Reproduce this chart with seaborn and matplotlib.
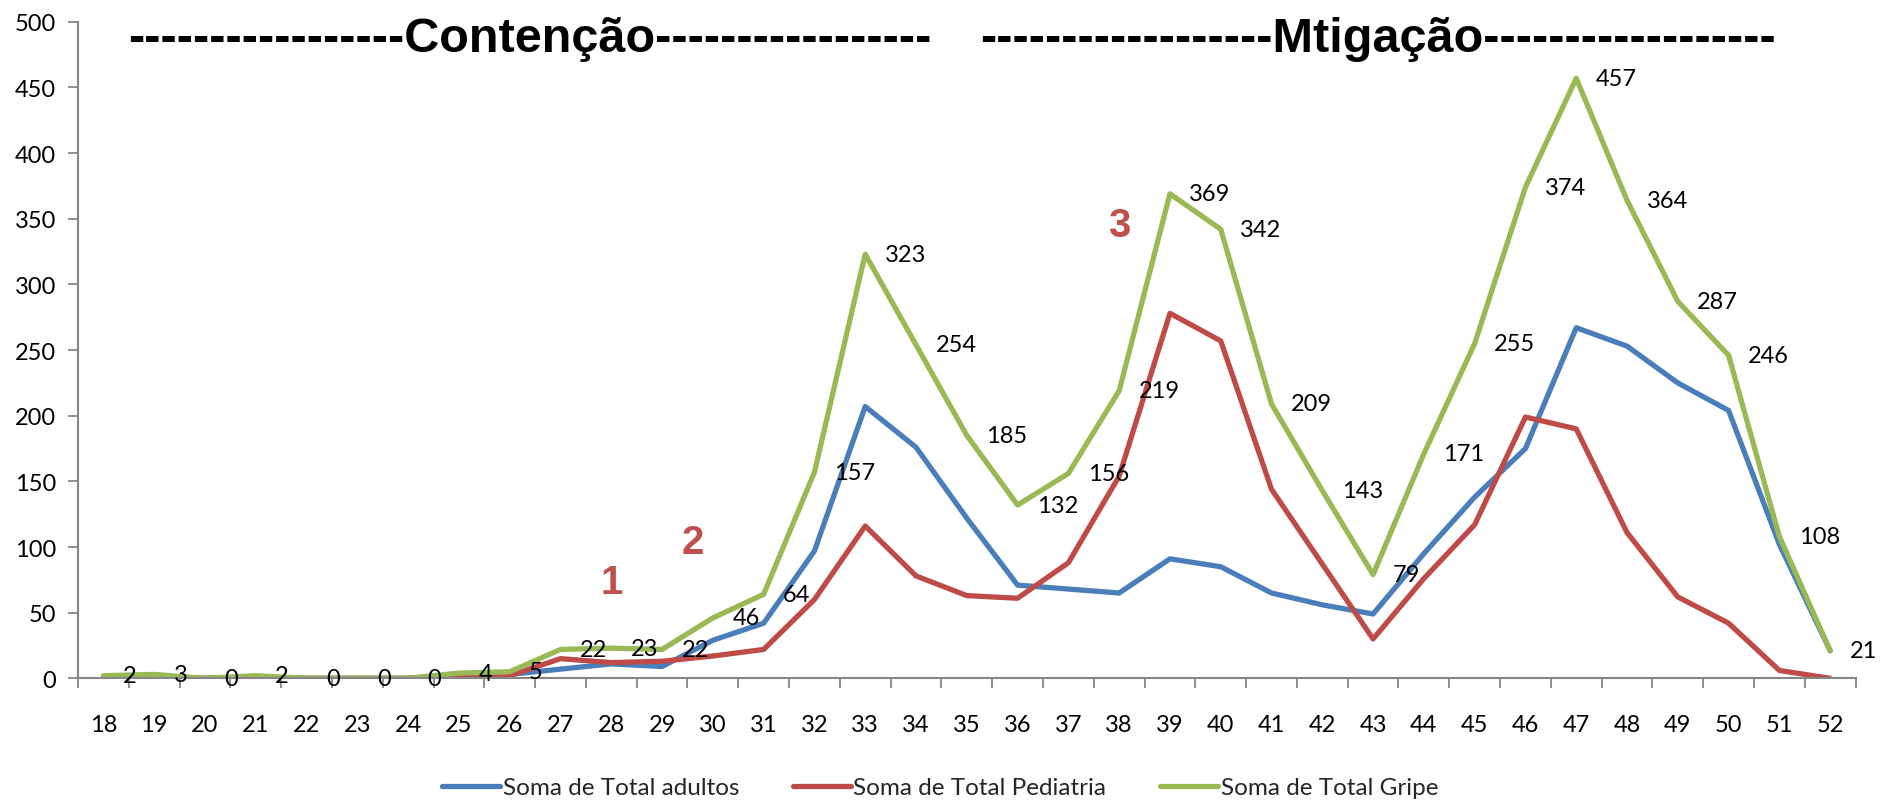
import matplotlib
matplotlib.use("Agg")
import matplotlib.pyplot as plt
from matplotlib.ticker import MultipleLocator
import seaborn as sns
import pandas as pd
import numpy as np

# semanas epidemiologicas
semanas = list(range(18, 53))
adultos = [1, 2, 0, 1, 0, 0, 0, 3, 3, 7, 11, 9, 29, 42, 97, 207, 176, 122, 71, 68,
           65, 91, 85, 65, 56, 49, 95, 138, 175, 267, 253, 225, 204, 102, 21]
pediatria = [1, 1, 0, 1, 0, 0, 0, 1, 2, 15, 12, 13, 17, 22, 60, 116, 78, 63, 61, 88,
             154, 278, 257, 144, 87, 30, 76, 117, 199, 190, 111, 62, 42, 6, 0]
gripe = [2, 3, 0, 2, 0, 0, 0, 4, 5, 22, 23, 22, 46, 64, 157, 323, 254, 185, 132, 156,
         219, 369, 342, 209, 143, 79, 171, 255, 374, 457, 364, 287, 246, 108, 21]
series_names = ["Soma de Total adultos", "Soma de Total Pediatria", "Soma de Total Gripe"]
cores = ["#4A7EBB", "#BE4B48", "#98B954"]

fases = ["-----------------Contenção-----------------", "------------------Mtigação------------------"]
fase_x = [26.4, 43.1]
marcos = ["1", "2", "3"]
marcos_x = [28, 29.6, 38]
marcos_y = [73, 104, 345]

df = pd.DataFrame({
    "semana": semanas * 3,
    "valor": adultos + pediatria + gripe,
    "serie": np.repeat(series_names, len(semanas)),
})

sns.set_theme(style="white")
plt.rcParams['font.family'] = ['Lato', 'DejaVu Sans']

fig = plt.figure(figsize=(18.8, 8.03), dpi=100)
ax = fig.add_axes([0.0415, 0.154, 0.9455, 0.8176])

sns.lineplot(data=df, x="semana", y="valor", hue="serie", palette=cores,
             hue_order=series_names, linewidth=3.8, ax=ax, legend=True)

for x, v in zip(semanas, gripe):
    ax.annotate(str(v), (x, v), xytext=(14, 0), textcoords="offset points",
                ha="left", va="center", fontsize=17, color="black")

for t, x in zip(fases, fase_x):
    ax.text(x, 487, t, ha="center", va="center", fontsize=35, fontweight="bold",
            family=['Liberation Sans'], color="black")

for t, x, y in zip(marcos, marcos_x, marcos_y):
    ax.text(x, y, t, ha="center", va="center", fontsize=29, fontweight="bold",
            family=['Liberation Sans'], color="#C0504D")

ax.set_xlim(17.5, 52.5)
ax.set_ylim(0, 500)
ax.set_xticks(semanas)
ax.set_xticklabels([str(s) for s in semanas])
ax.xaxis.set_minor_locator(MultipleLocator(1, offset=0.5))
ax.yaxis.set_major_locator(MultipleLocator(50))
ax.tick_params(axis="x", which="major", length=0, pad=26, labelsize=17, colors="black")
ax.tick_params(axis="x", which="minor", length=7, width=1.3, color="#868686", direction="out", bottom=True)
ax.tick_params(axis="y", length=7, width=1.3, color="#868686", direction="out", left=True,
               pad=9, labelsize=17, labelcolor="black")
ax.set_xlabel("")
ax.set_ylabel("")
for s in ["top", "right"]:
    ax.spines[s].set_visible(False)
for s in ["left", "bottom"]:
    ax.spines[s].set_color("#868686")
    ax.spines[s].set_linewidth(1.5)

handles, labels = ax.get_legend_handles_labels()
ax.legend_.remove()
fig.legend(handles, labels, loc="center", bbox_to_anchor=(0.5, 0.018), ncol=3,
           frameon=False, fontsize=17.5, handlelength=2.4, columnspacing=2.2,
           handletextpad=0.1)

fig.savefig("out.png", dpi=100)
